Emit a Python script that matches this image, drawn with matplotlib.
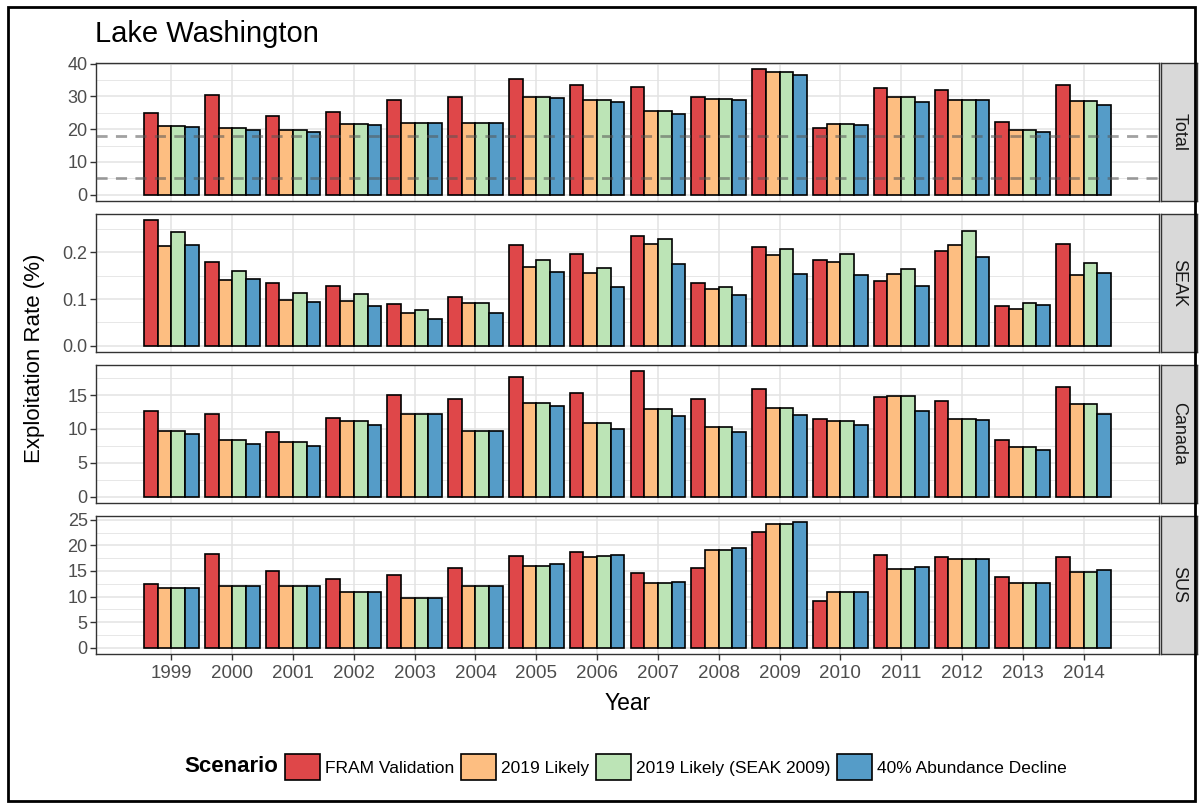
import numpy as np
import matplotlib
matplotlib.use('Agg')
import matplotlib.pyplot as plt
from matplotlib.patches import Patch, Rectangle

plt.rcParams['font.family'] = ['Liberation Sans', 'DejaVu Sans']

years = ['1999', '2000', '2001', '2002', '2003', '2004', '2005', '2006',
         '2007', '2008', '2009', '2010', '2011', '2012', '2013', '2014']
scenarios = ['FRAM Validation', '2019 Likely', '2019 Likely (SEAK 2009)', '40% Abundance Decline']
fisheries = ['Total', 'SEAK', 'Canada', 'SUS']

# Total
total_fram = [25.1, 30.4, 24.1, 25.2, 28.9, 29.9, 35.2, 33.4, 32.8, 29.9, 38.3, 20.5, 32.7, 31.9, 22.3, 33.6]
total_likely = [21.0, 20.5, 19.7, 21.6, 21.8, 21.8, 29.9, 28.9, 25.6, 29.3, 37.5, 21.7, 29.9, 28.8, 19.8, 28.7]
total_seak09 = [21.0, 20.5, 19.7, 21.6, 21.8, 21.8, 29.9, 28.9, 25.6, 29.3, 37.5, 21.7, 29.9, 28.8, 19.8, 28.7]
total_decl = [20.7, 19.7, 19.3, 21.2, 21.8, 21.8, 29.4, 28.2, 24.6, 28.8, 36.6, 21.2, 28.3, 28.8, 19.3, 27.3]

# SEAK
seak_fram = [0.269, 0.179, 0.134, 0.129, 0.089, 0.104, 0.216, 0.196, 0.236, 0.134, 0.212, 0.183, 0.138, 0.203, 0.085, 0.219]
seak_likely = [0.214, 0.141, 0.099, 0.096, 0.071, 0.091, 0.168, 0.157, 0.219, 0.121, 0.194, 0.179, 0.154, 0.216, 0.079, 0.151]
seak_seak09 = [0.244, 0.161, 0.112, 0.110, 0.076, 0.091, 0.183, 0.167, 0.229, 0.126, 0.208, 0.196, 0.165, 0.245, 0.091, 0.177]
seak_decl = [0.216, 0.144, 0.094, 0.086, 0.057, 0.071, 0.159, 0.126, 0.175, 0.109, 0.154, 0.151, 0.127, 0.191, 0.087, 0.156]

# Canada
can_fram = [12.7, 12.15, 9.5, 11.65, 15.0, 14.4, 17.65, 15.25, 18.5, 14.35, 15.85, 11.4, 14.65, 14.1, 8.4, 16.15]
can_likely = [9.75, 8.3, 8.05, 11.2, 12.25, 9.75, 13.8, 10.9, 12.9, 10.25, 13.15, 11.2, 14.9, 11.5, 7.4, 13.7]
can_seak09 = [9.75, 8.3, 8.05, 11.2, 12.25, 9.75, 13.8, 10.9, 12.9, 10.25, 13.15, 11.2, 14.9, 11.5, 7.4, 13.7]
can_decl = [9.25, 7.75, 7.45, 10.65, 12.25, 9.75, 13.35, 10.05, 11.85, 9.5, 12.1, 10.65, 12.7, 11.35, 6.85, 12.25]

# SUS
sus_fram = [12.4, 18.3, 15.0, 13.5, 14.2, 15.6, 17.9, 18.6, 14.6, 15.6, 22.6, 9.2, 18.2, 17.7, 13.9, 17.7]
sus_likely = [11.6, 12.0, 12.0, 10.9, 9.8, 12.0, 16.0, 17.8, 12.7, 19.1, 24.2, 10.8, 15.3, 17.3, 12.7, 14.8]
sus_seak09 = [11.6, 12.0, 12.0, 10.9, 9.8, 12.0, 16.0, 17.9, 12.7, 19.1, 24.2, 10.8, 15.3, 17.3, 12.7, 14.8]
sus_decl = [11.65, 12.0, 12.0, 10.9, 9.8, 12.0, 16.4, 18.2, 12.8, 19.4, 24.5, 10.8, 15.7, 17.3, 12.7, 15.2]

total_refs = [18, 5]

panel_data = {
    'Total': [total_fram, total_likely, total_seak09, total_decl],
    'SEAK': [seak_fram, seak_likely, seak_seak09, seak_decl],
    'Canada': [can_fram, can_likely, can_seak09, can_decl],
    'SUS': [sus_fram, sus_likely, sus_seak09, sus_decl],
}
major_ticks = {
    'Total': [0, 10, 20, 30, 40],
    'SEAK': [0.0, 0.1, 0.2],
    'Canada': [0, 5, 10, 15],
    'SUS': [0, 5, 10, 15, 20, 25],
}
tick_fmt = {'Total': '{:.0f}', 'SEAK': '{:.1f}', 'Canada': '{:.0f}', 'SUS': '{:.0f}'}

colors = ['#DF4749', '#FDBE81', '#BCE4B6', '#559CC8']

W, H = 1201, 807
fig = plt.figure(figsize=(W / 100, H / 100), dpi=100)

def fx(px):
    return px / W

def fy(py):
    return 1 - py / H

left, right = 96, 1159
tops = [63, 214, 365, 516]
ph = 138
xs = np.arange(len(years))
bw = 0.225
offs = np.array([-1.5, -0.5, 0.5, 1.5]) * bw
grid_c = '#E3E3E3'
txt_c = '#4D4D4D'

for i, fish in enumerate(fisheries):
    ax = fig.add_axes([fx(left), fy(tops[i] + ph), fx(right - left), ph / H])
    series = panel_data[fish]
    for j in range(4):
        ax.bar(xs + offs[j], series[j], width=bw, color=colors[j],
               edgecolor='black', linewidth=1.2, zorder=2)
    ymax = max(max(s) for s in series)
    pad = ymax * 0.05
    ax.set_ylim(-pad, ymax + pad)
    ax.set_xlim(-1.24, len(years) - 1 + 1.24)
    mt = major_ticks[fish]
    ax.set_yticks(mt)
    ax.set_yticklabels([tick_fmt[fish].format(v) for v in mt])
    step = mt[1] - mt[0]
    minors = [v + step / 2 for v in mt if v + step / 2 < ymax + pad]
    ax.set_yticks(minors, minor=True)
    ax.set_xticks(xs)
    ax.grid(True, which='major', color=grid_c, linewidth=1.1, zorder=0)
    ax.grid(True, which='minor', axis='y', color=grid_c, linewidth=0.6, zorder=0)
    ax.set_axisbelow(True)
    for sp in ax.spines.values():
        sp.set_color('#333333')
        sp.set_linewidth(1.0)
    ax.tick_params(axis='y', which='major', length=4, width=1, color='#333333',
                   labelsize=13, labelcolor=txt_c, pad=2)
    ax.tick_params(axis='y', which='minor', length=0)
    if fish == 'SUS':
        ax.set_xticklabels(years)
        ax.tick_params(axis='x', length=4, width=1, color='#333333',
                       labelsize=13.5, labelcolor=txt_c, pad=4)
    else:
        ax.tick_params(axis='x', length=0, labelbottom=False)
    if fish == 'Total':
        for r in total_refs:
            ax.axhline(r, color='#555555', linestyle=(0, (4, 3)), linewidth=2,
                       alpha=0.55, zorder=3)

    # strip
    sax = fig.add_axes([fx(1161), fy(tops[i] + ph), fx(1197 - 1161), ph / H])
    sax.set_facecolor('#D9D9D9')
    sax.set_xticks([])
    sax.set_yticks([])
    for sp in sax.spines.values():
        sp.set_color('#333333')
        sp.set_linewidth(1.0)
    sax.text(0.5, 0.5, fish, rotation=270, ha='center', va='center',
             fontsize=13, color='#1A1A1A', transform=sax.transAxes)

fig.text(fx(95), fy(34), 'Lake Washington', fontsize=21, ha='left', va='center', color='black')
fig.text(fx(35), fy((63 + 654) / 2), 'Exploitation Rate (%)', fontsize=16,
         rotation=90, ha='center', va='center', color='black')
fig.text(fx((left + right) / 2), fy(703), 'Year', fontsize=16.5, ha='center', va='center', color='black')

fig.text(fx(184), fy(767), 'Scenario', fontsize=16, fontweight='bold', ha='left', va='center')
handles = [Patch(facecolor=c, edgecolor='black', linewidth=1.2) for c in colors]
fig.legend(handles, scenarios, loc='center left', bbox_to_anchor=(fx(285), fy(767)),
           ncol=4, frameon=False, fontsize=12.5, handlelength=2.0, handleheight=2.0,
           handletextpad=0.3, columnspacing=0.4, borderpad=0, borderaxespad=0)

fig.add_artist(Rectangle((fx(8), fy(801)), fx(1195 - 8), (801 - 7) / H,
                         transform=fig.transFigure, fill=False, edgecolor='black', linewidth=2))

fig.savefig('out.png', dpi=100)
